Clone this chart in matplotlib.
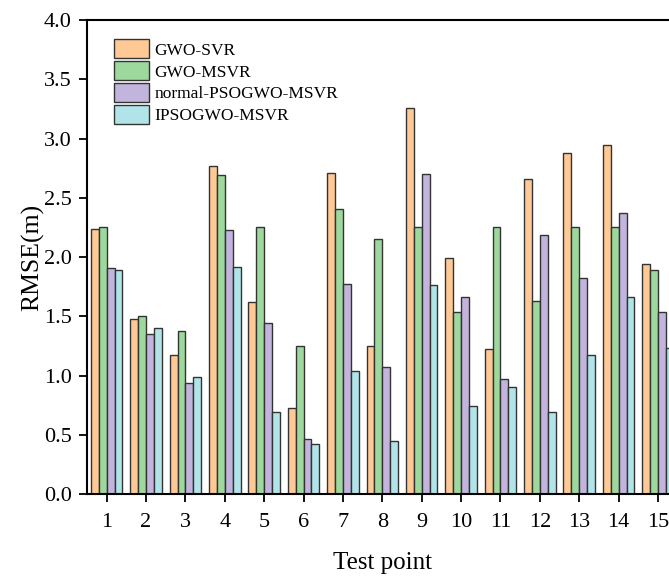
import numpy as np
import matplotlib.pyplot as plt

plt.rcParams['font.family'] = ['Liberation Serif', 'DejaVu Serif']

points = np.arange(1, 16)
gwo_svr = [2.24, 1.48, 1.17, 2.77, 1.62, 0.73, 2.71, 1.25, 3.26, 1.99, 1.22, 2.66, 2.88, 2.95, 1.94]
gwo_msvr = [2.25, 1.50, 1.38, 2.69, 2.25, 1.25, 2.41, 2.15, 2.25, 1.54, 2.25, 1.63, 2.25, 2.25, 1.89]
normal_pso = [1.91, 1.35, 0.94, 2.23, 1.44, 0.46, 1.77, 1.07, 2.70, 1.66, 0.97, 2.19, 1.82, 2.37, 1.54]
ipso = [1.89, 1.40, 0.99, 1.92, 0.69, 0.42, 1.04, 0.45, 1.76, 0.74, 0.90, 0.69, 1.17, 1.66, 1.23]

series = [
    ('GWO-SVR', gwo_svr, '#FFC996'),
    ('GWO-MSVR', gwo_msvr, '#9DD99D'),
    ('normal-PSOGWO-MSVR', normal_pso, '#C2B4DC'),
    ('IPSOGWO-MSVR', ipso, '#B1E4E9'),
]

fig = plt.figure(figsize=(6.69, 5.76), dpi=100)
ax = fig.add_axes([0.130, 0.1424, 0.883, 0.8226])

w = 0.2
for i, (name, vals, col) in enumerate(series):
    ax.bar(points + (i - 1.5) * w, vals, w, color=col, edgecolor='#333333',
           linewidth=1.0, label=name)

ax.set_xlim(0.5, 15.5)
ax.set_ylim(0, 4.0)
ax.set_xticks(points)
ax.set_yticks(np.arange(0, 4.01, 0.5))
ax.set_yticklabels([f'{v:.1f}' for v in np.arange(0, 4.01, 0.5)])
ax.tick_params(direction='out', length=6, width=1.3, labelsize=16, pad=5)
ax.tick_params(axis='x', pad=8)
for s in ax.spines.values():
    s.set_linewidth(1.5)

ax.set_xlabel('Test point', fontsize=18, labelpad=14)
ax.set_ylabel('RMSE(m)', fontsize=18.5, labelpad=0)

ax.legend(loc='upper left', bbox_to_anchor=(0.025, 0.985), frameon=False,
          fontsize=12.5, handlelength=2.0, handleheight=1.3, labelspacing=0.15,
          handletextpad=0.35, borderaxespad=0.3)

fig.savefig('out.png', dpi=100)
